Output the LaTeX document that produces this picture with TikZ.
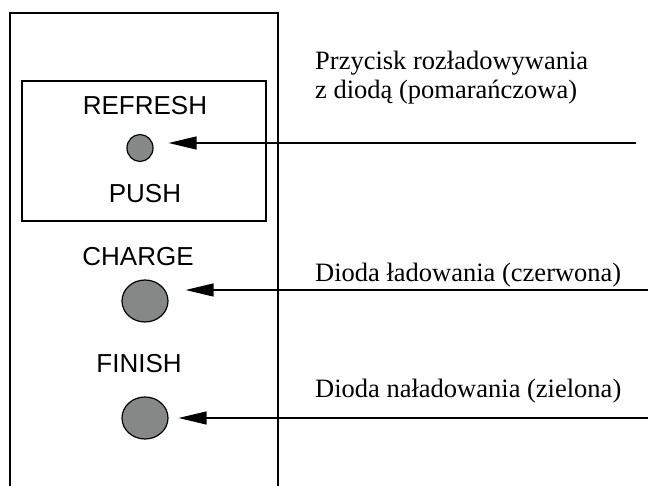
\documentclass[tikz,border=0pt]{standalone}
\usepackage{fontspec}
\setmainfont{Liberation Serif}
\setsansfont{Liberation Sans}
\usepackage{tikz}
\usetikzlibrary{shapes.geometric,positioning,arrows.meta}

\definecolor{ledgray}{HTML}{868888}
\tikzset{
  panel/.style={line width=1.8pt},
  caption/.style={font=\sffamily\fontsize{26}{28}\selectfont, anchor=base, inner sep=0pt},
  remark/.style={font=\rmfamily\fontsize{26.5}{29}\selectfont, anchor=base west, inner sep=0pt, align=left},
  led/.style={ellipse, draw, line width=1.2pt, fill=ledgray, inner sep=0pt},
  pointer/.style={line width=1.3pt, -{Triangle[length=28pt,width=13pt]}},
}

\begin{document}
\begin{tikzpicture}[x=1pt, y=-1pt]
			\useasboundingbox (0,0) rectangle (648,486);
			% front panel, open at the bottom
			\draw[panel] (10,490) -- (10,13) -- (278,13) -- (278,490);
			\node[draw, line width=1.2pt, minimum width=244pt, minimum height=140pt] (pushbox) at (144,151) {};

			\node[caption] (refresh) at (145,115) {REFRESH};
			\node[led, minimum width=26pt, minimum height=27pt] (led1) at (140,148) {};
			\node[caption] (push) at (145,203) {PUSH};
			\node[caption] (charge) at (138,266) {CHARGE};
			\node[led, minimum width=46pt, minimum height=42pt] (led2) at (145,301) {};
			\node[caption] (finish) at (139,373) {FINISH};
			\node[led, minimum width=46pt, minimum height=42pt] (led3) at (145,418) {};

			% descriptions
			\node[remark] (txt1) at (315,99) {Przycisk rozładowywania\\z diodą (pomarańczowa)};
			\node[remark] (txt2) at (315,282) {Dioda ładowania (czerwona)};
			\node[remark] (txt3) at (315,397) {Dioda naładowania (zielona)};

			\coordinate (end1) at (636,143);
			\coordinate (end2) at (648,290);
			\coordinate (end3) at (648,418);

			\draw[pointer, shorten >=15pt] (end1) -- (end1 -| led1.east);
			\draw[pointer, shorten >=17pt] (end2) -- (end2 -| led2.east);
			\draw[pointer, shorten >=10pt] (end3) -- (end3 -| led3.east);
		\end{tikzpicture}
\end{document}
